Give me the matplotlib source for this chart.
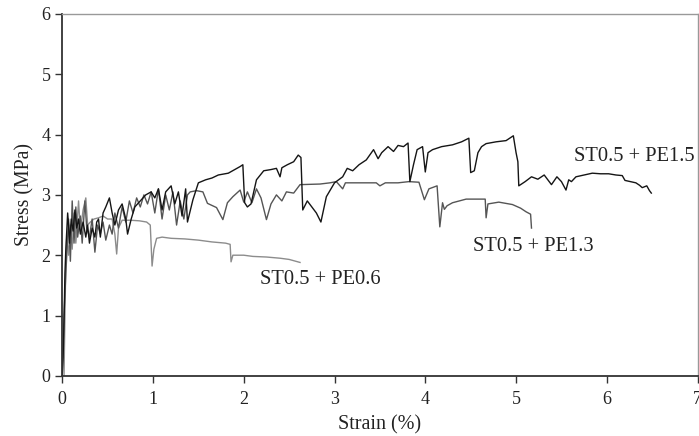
import matplotlib.pyplot as plt

# ST0.5 + PE1.5 (black)
pe15_x = [0.0, 0.01, 0.02, 0.03, 0.04, 0.05, 0.06, 0.07, 0.08, 0.10, 0.12, 0.14, 0.16, 0.18, 0.20,
          0.23, 0.26, 0.28, 0.30, 0.33, 0.36, 0.38, 0.40, 0.42, 0.45, 0.48, 0.52, 0.55, 0.58,
          0.62, 0.66, 0.70, 0.72, 0.76, 0.80, 0.86, 0.92, 0.98, 1.02, 1.06, 1.10, 1.14, 1.20,
          1.24, 1.28, 1.32, 1.36, 1.38, 1.44, 1.50, 1.58, 1.65, 1.72, 1.83, 1.90, 1.96, 1.99,
          2.01, 2.04, 2.08, 2.14, 2.22, 2.30, 2.36, 2.40, 2.42, 2.48, 2.55, 2.60, 2.63,
          2.65, 2.70, 2.74, 2.80, 2.85, 2.91, 3.00, 3.09, 3.14, 3.20, 3.27, 3.35, 3.43, 3.48,
          3.52, 3.59, 3.65, 3.70, 3.76, 3.81, 3.83, 3.87, 3.91, 3.97, 4.00, 4.03, 4.08, 4.18,
          4.30, 4.40, 4.48, 4.50, 4.54, 4.58, 4.62, 4.67, 4.78, 4.89, 4.97, 5.00, 5.02, 5.03,
          5.10, 5.17, 5.24, 5.31, 5.39, 5.45, 5.50, 5.55, 5.58, 5.61, 5.66, 5.75, 5.84, 5.93,
          6.02, 6.10, 6.17, 6.20, 6.26, 6.32, 6.36, 6.39, 6.44, 6.47, 6.49]
pe15_y = [0.0, 0.3, 0.9, 1.7, 2.1, 2.4, 2.7, 2.5, 2.2, 2.6, 2.4, 2.75, 2.45, 2.6, 2.35,
          2.55, 2.3, 2.5, 2.2, 2.45, 2.3, 2.55, 2.6, 2.3, 2.7, 2.8, 2.95, 2.7, 2.5,
          2.75, 2.85, 2.6, 2.35, 2.6, 2.8, 2.9, 3.0, 3.05, 2.95, 3.1, 2.75, 3.05, 3.15,
          2.85, 3.05, 2.65, 3.1, 2.55, 2.92, 3.2, 3.25, 3.28, 3.33, 3.36, 3.42, 3.47, 3.5,
          2.87, 2.8, 2.85, 3.25, 3.4, 3.42, 3.44, 3.3, 3.45, 3.5, 3.55, 3.66, 3.62,
          2.75, 2.9, 2.82, 2.7, 2.55, 2.97, 3.2, 3.3, 3.44, 3.4, 3.5, 3.58, 3.75, 3.6,
          3.7, 3.8, 3.72, 3.82, 3.8, 3.86, 3.22, 3.5, 3.75, 3.8, 3.38, 3.7, 3.75, 3.8,
          3.83, 3.88, 3.94, 3.37, 3.4, 3.7, 3.8, 3.85, 3.88, 3.9, 3.98, 3.7, 3.55, 3.15,
          3.22, 3.3, 3.26, 3.33, 3.17, 3.3, 3.22, 3.08, 3.25, 3.22, 3.3, 3.33, 3.36, 3.35,
          3.35, 3.33, 3.32, 3.24, 3.22, 3.2, 3.16, 3.12, 3.15, 3.07, 3.03]

# ST0.5 + PE1.3 (dark grey)
pe13_x = [0.0, 0.02, 0.04, 0.05, 0.07, 0.09, 0.11, 0.13, 0.15, 0.17, 0.20, 0.22, 0.25, 0.27,
          0.30, 0.33, 0.36, 0.39, 0.42, 0.45, 0.48, 0.52, 0.55, 0.58, 0.62, 0.66, 0.70, 0.74,
          0.78, 0.82, 0.86, 0.90, 0.94, 0.98, 1.02, 1.06, 1.10, 1.14, 1.18, 1.22, 1.26, 1.30,
          1.34, 1.38, 1.41, 1.48, 1.55, 1.60, 1.70, 1.77, 1.82, 1.88, 1.96, 2.00, 2.04, 2.09,
          2.14, 2.19, 2.25, 2.30, 2.36, 2.42, 2.47, 2.55, 2.62, 2.84, 2.95, 3.02, 3.09, 3.12,
          3.30, 3.46, 3.50, 3.56, 3.70, 3.82, 3.93, 3.99, 4.04, 4.13, 4.16, 4.19, 4.21, 4.24,
          4.30, 4.45, 4.59, 4.66, 4.67, 4.69, 4.81, 4.96, 5.05, 5.11, 5.16, 5.17]
pe13_y = [0.0, 1.0, 1.7, 2.0, 2.6, 1.9, 2.9, 2.2, 2.8, 2.3, 2.65, 2.2, 2.9, 2.45,
          2.3, 2.6, 2.05, 2.5, 2.35, 2.55, 2.25, 2.5, 2.35, 2.7, 2.45, 2.8, 2.55, 2.9,
          2.7, 2.95, 2.8, 3.0, 2.85, 3.05, 2.7, 3.1, 2.6, 3.0, 2.75, 3.05, 2.5, 2.9,
          2.6, 3.0, 3.05, 3.07, 3.05, 2.86, 2.79, 2.59, 2.87, 2.97, 3.08, 2.88, 3.05, 2.87,
          3.1, 2.95, 2.59, 2.85, 3.0, 2.9, 3.05, 3.03, 3.17, 3.18, 3.2, 3.22, 3.1, 3.2,
          3.2, 3.2, 3.15, 3.2, 3.2, 3.22, 3.21, 2.92, 3.1, 3.15, 2.47, 2.87, 2.76, 2.82,
          2.87, 2.93, 2.93, 2.93, 2.62, 2.85, 2.88, 2.84, 2.78, 2.72, 2.68, 2.45]

# ST0.5 + PE0.6 (light grey)
pe06_x = [0.02, 0.03, 0.04, 0.05, 0.07, 0.09, 0.11, 0.13, 0.15, 0.18, 0.20, 0.23, 0.26, 0.28,
          0.31, 0.35, 0.40, 0.45, 0.50, 0.55, 0.58, 0.60, 0.62, 0.66, 0.75, 0.85, 0.93, 0.97,
          0.99, 1.01, 1.04, 1.10, 1.20, 1.35, 1.50, 1.65, 1.80, 1.85, 1.86, 1.88, 2.00, 2.10,
          2.25, 2.40, 2.50, 2.62]
pe06_y = [0.0, 1.0, 1.9, 2.3, 2.0, 2.5, 2.1, 2.7, 2.2, 2.9, 2.4, 2.75, 2.95, 2.5,
          2.55, 2.6, 2.62, 2.65, 2.6, 2.6, 2.35, 2.02, 2.45, 2.58, 2.58, 2.57, 2.55, 2.5,
          1.82, 2.1, 2.28, 2.3, 2.28, 2.27, 2.25, 2.22, 2.2, 2.18, 1.89, 2.0, 2.0, 1.98,
          1.97, 1.95, 1.93, 1.88]

labels = ["ST0.5 + PE1.5", "ST0.5 + PE1.3", "ST0.5 + PE0.6"]

plt.rcParams['font.family'] = ['Liberation Serif', 'DejaVu Serif']

fig = plt.figure(figsize=(6.99, 4.36), dpi=100)
ax = fig.add_axes([0.089, 0.138, 0.909, 0.83])

ax.plot(pe06_x, pe06_y, color='#8c8c8c', lw=1.0)
ax.plot(pe13_x, pe13_y, color='#555555', lw=1.0)
ax.plot(pe15_x, pe15_y, color='#151515', lw=1.0)

ax.text(5.64, 3.63, labels[0], fontsize=14.8, va='center', ha='left', color='#222222')
ax.text(4.53, 2.14, labels[1], fontsize=14.8, va='center', ha='left', color='#222222')
ax.text(2.18, 1.59, labels[2], fontsize=14.8, va='center', ha='left', color='#222222')

ax.set_xlim(0, 7)
ax.set_ylim(0, 6)
ax.set_xticks(range(0, 8))
ax.set_yticks(range(0, 7))
ax.set_xlabel("Strain (%)", fontsize=14.5, color='#222222', labelpad=5)
ax.set_ylabel("Stress (MPa)", fontsize=14.2, color='#222222', labelpad=5)
ax.tick_params(direction='out', length=5, width=1, colors='#333333', labelsize=13,
               labelcolor='#222222')
ax.tick_params(axis='x', pad=6)
for s in ['left', 'bottom']:
    ax.spines[s].set_color('#333333')
    ax.spines[s].set_linewidth(1.3)
for s in ['top', 'right']:
    ax.spines[s].set_color('#999999')
    ax.spines[s].set_linewidth(1.0)

fig.savefig("out.png", dpi=100)
